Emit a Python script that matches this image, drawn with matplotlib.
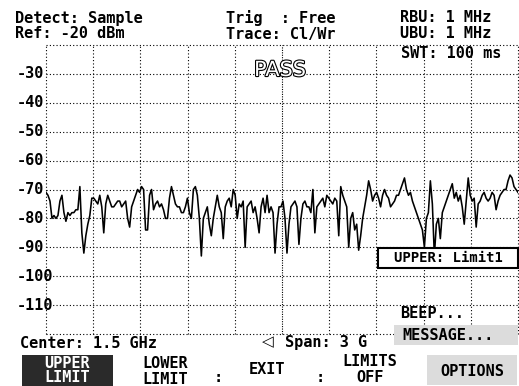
import numpy as np
import matplotlib
matplotlib.use("Agg")
import matplotlib.pyplot as plt
from matplotlib.patches import Rectangle
import matplotlib.patheffects as pe

# ---- data ----
span_ghz = 3.0
ref_level = -20
level_ticks = [-30, -40, -50, -60, -70, -80, -90, -100, -110]
trace_dbm = [
    # 0 .. ~0.73 GHz
    -71, -72, -74, -80, -79, -80, -79, -74, -72, -78,
    -81, -78, -79, -78, -78, -77, -77, -69, -85, -92,
    -86, -82, -79, -73, -73, -74, -75, -72, -76, -85,
    -75, -72, -74, -76, -76, -75, -74, -74, -76, -75,
    -74, -80, -83, -76, -74, -72, -70, -71, -69, -70,
    -84, -84, -72, -70, -77, -75, -74, -76,
    # ~0.73 .. 1.48 GHz
    -75, -77, -80, -80, -73, -69, -72, -75, -76, -76,
    -78, -78, -76, -73, -78, -80, -70, -69, -72, -80,
    -93, -80, -78, -76, -82, -86, -80, -76, -72, -76,
    -78, -87, -76, -74, -73, -76, -70, -72, -80, -75,
    -76, -74, -90, -76, -75, -74, -78, -76, -80, -85,
    -76, -73, -78, -72, -78, -76, -78, -92, -82, -76,
    # 1.48 .. 2.23 GHz
    -76, -74, -80, -92, -82, -76, -75, -74, -76, -89,
    -80, -75, -74, -76, -76, -78, -70, -85, -76, -75,
    -74, -73, -76, -72, -73, -74, -75, -73, -74, -86,
    -69, -72, -74, -76, -90, -80, -78, -84, -82, -91,
    -86, -80, -76, -72, -67, -70, -74, -72, -71, -73,
    -76, -72, -70, -72, -73, -76, -75, -74, -72,
    # 2.23 .. 3 GHz
    -72, -70, -68, -66, -70, -72, -71, -74, -76, -78,
    -80, -82, -84, -90, -80, -78, -67, -75, -93, -82,
    -80, -87, -78, -76, -74, -72, -70, -68, -73, -71,
    -74, -72, -76, -82, -74, -66, -72, -74, -73, -83,
    -75, -74, -72, -71, -73, -74, -73, -71, -72, -77,
    -74, -72, -71, -70, -70, -67, -65, -66, -69, -70, -71,
]

W, H = 519, 386
fig = plt.figure(figsize=(W / 100, H / 100), dpi=100, facecolor="white")

def fx(x):
    return x / W

def fy(y):
    return 1 - y / H

# plot area in pixels
L, R, T, B = 46, 518, 45, 334
ax = fig.add_axes([fx(L), fy(B), (R - L) / W, (B - T) / H])
ax.set_facecolor("white")

freq = np.linspace(0, span_ghz, len(trace_dbm))
ax.plot(freq, trace_dbm, color="black", lw=1.15, zorder=3)

ax.set_xlim(0, span_ghz)
ax.set_ylim(ref_level - 100, ref_level)
dot = (0, (1, 2))
for i, v in enumerate(np.linspace(0, span_ghz, 11)):
    ax.axvline(v, color="black", lw=0.8, ls=(0, (1, 1.2)) if i == 5 else dot,
               zorder=1, clip_on=False)
for v in range(ref_level, ref_level - 101, -10):
    ax.axhline(v, color="black", lw=0.8, ls=dot, zorder=1, clip_on=False)
for s in ax.spines.values():
    s.set_visible(False)
ax.set_xticks([])
ax.set_yticks([])

mono = "DejaVu Sans Mono"
fs = 11

for lv in level_ticks:
    ypix = T + (ref_level - lv) / 100 * (B - T)
    fig.text(fx(17), fy(ypix), f"{lv}", family=mono, weight="bold", fontsize=fs,
             ha="left", va="center")

# header texts
hdr = dict(family=mono, weight="bold", fontsize=fs, ha="left", va="center")
fig.text(fx(15), fy(18), "Detect: Sample", **hdr)
fig.text(fx(15), fy(34), "Ref: -20 dBm", **hdr)
fig.text(fx(226), fy(18), "Trig  : Free", **hdr)
fig.text(fx(226), fy(34), "Trace: Cl/Wr", **hdr)
fig.text(fx(400), fy(18), "RBU: 1 MHz", **hdr)
fig.text(fx(400), fy(34), "UBU: 1 MHz", **hdr)
fig.text(fx(401), fy(53), "SWT: 100 ms", **hdr)

# PASS (outlined)
fig.text(fx(280), fy(70), "PASS", family="DejaVu Sans", fontsize=15, ha="center",
         va="center", color="white",
         path_effects=[pe.withStroke(linewidth=1.6, foreground="black")], zorder=5)

# limit label box
fig.patches.append(Rectangle((fx(378), fy(268)), (518 - 378) / W, 20 / H,
                             transform=fig.transFigure, facecolor="white",
                             edgecolor="black", lw=1.5, zorder=6))
fig.text(fx(448), fy(258), "UPPER: Limit1", family=mono, weight="bold", fontsize=10,
         ha="center", va="center", zorder=7)

# message area
fig.patches.append(Rectangle((fx(394), fy(345)), (518 - 394) / W, 20 / H,
                             transform=fig.transFigure, facecolor="#dcdcdc",
                             edgecolor="none", zorder=1))
fig.text(fx(400), fy(313), "BEEP...", **hdr)
fig.text(fx(402), fy(335), "MESSAGE...", **hdr)

# bottom status
fig.text(fx(20), fy(344), "Center: 1.5 GHz", **hdr)
fig.text(fx(262), fy(342), "◁", family="DejaVu Sans", weight="bold", fontsize=fs,
         ha="left", va="center")
fig.text(fx(285), fy(342), "Span: 3 G", **hdr)

# softkeys
fig.patches.append(Rectangle((fx(22), fy(386)), (113 - 22) / W, 31 / H,
                             transform=fig.transFigure, facecolor="#2a2a2a",
                             edgecolor="none", zorder=1))
sk = dict(family=mono, weight="bold", fontsize=fs, ha="center", va="center")
fig.text(fx(67), fy(363), "UPPER", color="white", **sk)
fig.text(fx(67), fy(378), "LIMIT", color="white", **sk)
fig.text(fx(165), fy(364), "LOWER", **sk)
fig.text(fx(165), fy(379), "LIMIT", **sk)
fig.text(fx(218), fy(377), ":", **sk)
fig.text(fx(267), fy(370), "EXIT", **sk)
fig.text(fx(320), fy(377), ":", **sk)
fig.text(fx(370), fy(362), "LIMITS", **sk)
fig.text(fx(370), fy(377), "OFF", **sk)
fig.patches.append(Rectangle((fx(427), fy(385)), (517 - 427) / W, 30 / H,
                             transform=fig.transFigure, facecolor="#dcdcdc",
                             edgecolor="none", zorder=1))
fig.text(fx(472), fy(371), "OPTIONS", **sk)

fig.savefig("out.png", dpi=100, facecolor="white")
